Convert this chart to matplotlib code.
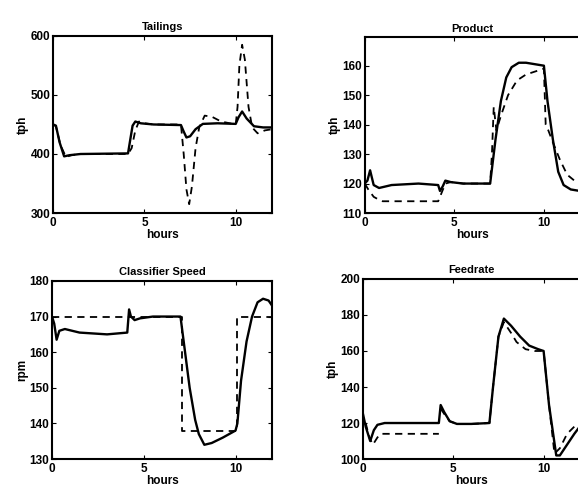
import matplotlib
matplotlib.use('Agg')
from matplotlib import pyplot as plt

plt.rcParams['font.family'] = ['Liberation Sans', 'DejaVu Sans']
plt.rcParams['font.weight'] = 'bold'
plt.rcParams['font.size'] = 8.5

# Tailings (tph)
tail_t_s = [0, 0.15, 0.35, 0.6, 0.9, 1.5, 4.1, 4.2, 4.35, 4.5, 4.8, 5.5, 7.0, 7.15, 7.3, 7.5, 7.8, 8.2, 9.0, 10.0, 10.15, 10.35, 10.6, 11.0, 11.5, 12]
tail_s = [450, 448, 420, 396, 398, 400, 401, 420, 448, 455, 452, 450, 449, 438, 428, 430, 442, 451, 452, 451, 462, 472, 460, 447, 445, 445]
tail_t_d = [0, 0.15, 0.4, 0.7, 1.0, 1.5, 4.1, 4.3, 4.5, 4.7, 5.0, 5.5, 7.0, 7.15, 7.3, 7.45, 7.6, 7.8, 8.0, 8.3, 8.7, 9.2, 10.0, 10.1, 10.2, 10.35, 10.5, 10.7, 10.9, 11.2, 11.6, 12]
tail_d = [450, 447, 415, 395, 398, 400, 400, 410, 440, 455, 452, 450, 450, 400, 340, 315, 345, 410, 445, 465, 463, 455, 450, 480, 550, 585, 560, 480, 445, 435, 440, 442]

# Product (tph)
prod_t_s = [0, 0.15, 0.3, 0.5, 0.8, 1.5, 3.0, 4.1, 4.2, 4.35, 4.5, 4.8, 5.5, 7.0, 7.3, 7.6, 7.9, 8.2, 8.6, 9.0, 10.0, 10.2, 10.5, 10.8, 11.1, 11.5, 12]
prod_s = [120, 121, 124.5, 119.5, 118.5, 119.5, 120, 119.5, 117.5, 119, 121, 120.5, 120, 120, 135, 148, 156, 159.5, 161, 161, 160, 148, 135, 124, 119.5, 118, 117.5]
prod_t_d = [0, 0.2, 0.5, 0.8, 1.0, 4.1, 4.3, 4.5, 4.8, 5.5, 7.0, 7.1, 7.2, 7.35, 7.6, 8.0, 8.5, 9.0, 10.0, 10.1, 10.25, 10.5, 10.9, 11.3, 11.7, 12]
prod_d = [120, 118, 115.5, 114.5, 114, 114, 117, 120, 120.5, 120, 120, 130, 146, 138, 143, 150, 155, 157, 159, 140, 138, 134, 128, 123, 121, 120]

# Classifier Speed (rpm)
cls_t_s = [0, 0.12, 0.25, 0.4, 0.7, 1.5, 3.0, 4.1, 4.2, 4.3, 4.5, 4.8, 5.5, 7.0, 7.2, 7.5, 7.8, 8.0, 8.3, 8.7, 9.3, 10.0, 10.1, 10.3, 10.6, 10.9, 11.2, 11.5, 11.8, 12]
cls_s = [170, 168, 163.5, 166, 166.5, 165.5, 165, 165.5, 172, 170, 169, 169.5, 170, 170, 162, 150, 141, 137, 134, 134.5, 136, 138, 140, 152, 163, 170, 174, 175, 174.5, 173]
cls_t_d = [0, 7.1, 7.1, 10.1, 10.1, 12]
cls_d = [170, 170, 138, 138, 170, 170]

# Feedrate (tph)
feed_t_s = [0, 0.15, 0.4, 0.6, 0.8, 1.2, 2.0, 4.2, 4.3, 4.5, 4.8, 5.2, 6.0, 7.0, 7.2, 7.5, 7.8, 8.2, 8.7, 9.2, 9.7, 10.0, 10.3, 10.7, 10.9, 11.3, 11.7, 12]
feed_s = [125, 118, 110, 116, 119, 120, 120, 120, 130, 126, 121, 119.5, 119.5, 120, 140, 168, 178, 174, 168, 163, 161, 160, 130, 102, 102, 108, 114, 118]
feed_t_d = [0.15, 0.35, 0.55, 0.8, 1.0, 1.5, 4.2]
feed_d = [120, 112, 108, 112, 114, 114, 114]
feed_t_d2 = [4.3, 4.5, 4.8, 5.2, 6.0, 7.0, 7.2, 7.5, 7.8, 8.2, 8.5, 9.0, 9.5, 10.0, 10.3, 10.6, 10.9, 11.3, 11.7, 12]
feed_d2 = [128, 125, 121, 119.5, 119.5, 120, 140, 168, 176, 170, 165, 161, 160, 160, 130, 103, 106, 114, 118, 120]

fig = plt.figure(figsize=(5.78, 4.92), dpi=100)

DASH = (0, (4, 3))


def panel(rect, title, ylabel, ylim, yticks, right=True):
    ax = fig.add_axes(rect)
    ax.set_xlim(0, 12)
    ax.set_ylim(*ylim)
    ax.set_xticks([0, 5, 10])
    ax.set_yticks(yticks)
    ax.tick_params(direction='in', length=3, top=True, right=right)
    ax.tick_params(axis='x', pad=3)
    ax.tick_params(axis='y', pad=2)
    for s in ax.spines.values():
        s.set_linewidth(1.5)
    ax.set_title(title, fontweight='bold', fontsize=8, pad=4)
    ax.set_xlabel('hours', fontweight='bold', labelpad=0)
    ax.set_ylabel(ylabel, fontweight='bold', labelpad=1)
    return ax


ax = panel([0.092, 0.567, 0.379, 0.36], 'Tailings', 'tph', (300, 600), [300, 400, 500, 600])
ax.plot(tail_t_s, tail_s, color='black', lw=1.7)
ax.plot(tail_t_d, tail_d, color='black', lw=1.3, linestyle=DASH)

ax = panel([0.631, 0.567, 0.372, 0.357], 'Product', 'tph', (110, 169.6), [110, 120, 130, 140, 150, 160], right=False)
ax.plot(prod_t_s, prod_s, color='black', lw=1.7)
ax.plot(prod_t_d, prod_d, color='black', lw=1.3, linestyle=DASH)

ax = panel([0.090, 0.067, 0.381, 0.362], 'Classifier Speed', 'rpm', (130, 180), [130, 140, 150, 160, 170, 180])
ax.plot(cls_t_s, cls_s, color='black', lw=1.7)
ax.plot(cls_t_d, cls_d, color='black', lw=1.3, linestyle=DASH)

ax = panel([0.628, 0.067, 0.375, 0.366], 'Feedrate', 'tph', (100, 200), [100, 120, 140, 160, 180, 200], right=False)
ax.plot(feed_t_s, feed_s, color='black', lw=1.7)
ax.plot(feed_t_d, feed_d, color='black', lw=1.3, linestyle=DASH)
ax.plot(feed_t_d2, feed_d2, color='black', lw=1.3, linestyle=DASH)

plt.savefig('out.png', dpi=100)
